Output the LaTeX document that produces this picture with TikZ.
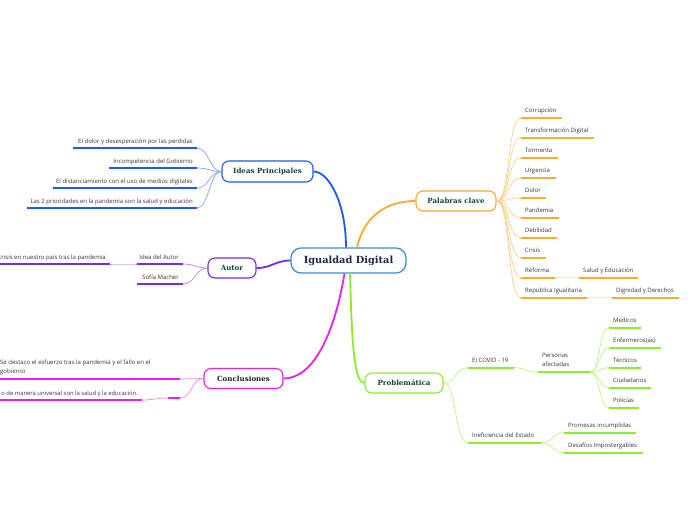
\documentclass[tikz,border=0pt]{standalone}
\usepackage{fontspec}
\setmainfont{Open Sans}
\newfontfamily\slabfont{DejaVu Serif}
\definecolor{bblue}{RGB}{30,90,245}
\definecolor{rootblue}{RGB}{60,140,210}
\definecolor{orng}{RGB}{250,170,45}
\definecolor{purp}{RGB}{120,40,240}
\definecolor{magn}{RGB}{240,30,235}
\definecolor{lgrn}{RGB}{140,235,45}
\definecolor{ngreen}{RGB}{15,70,55}
\definecolor{navy}{RGB}{25,40,75}
\definecolor{leafgray}{RGB}{55,55,55}
\definecolor{darktx}{RGB}{30,30,30}
\newcommand\rleaf[6]{%
  \coordinate (#1-l) at (#2,#4); \coordinate (#1-r) at (#3,#4);
  \draw[uline,#6] (#1-l) -- (#1-r);
  \node[leaf,anchor=base west] (#1) at ([shift={(4,-5)}]#1-l) {#5};}
\newcommand\lleaf[6]{%
  \coordinate (#1-l) at (#2,#4); \coordinate (#1-r) at (#3,#4);
  \draw[uline,#6] (#1-l) -- (#1-r);
  \node[leaf,anchor=base east] (#1) at ([shift={(-4,-5)}]#1-r) {#5};}
\newcommand\rcon[4]{\draw[thinc,#4] (#1) .. controls +(#3,0) and +(-#3,0) .. (#2);}
\newcommand\lcon[4]{\draw[thinc,#4] (#1) .. controls +(-#3,0) and +(#3,0) .. (#2);}
\begin{document}
\begin{tikzpicture}[x=1pt,y=-1pt,
  mainbox/.style={draw, fill=white, rounded corners=7pt, line width=1.1pt, inner sep=0pt,
    font=\slabfont\bfseries\fontsize{7.1}{9}\selectfont, text=ngreen},
  leaf/.style={inner sep=0pt, font=\fontsize{6}{9}\selectfont, text=leafgray},
  uline/.style={line width=1.8pt},
  thinc/.style={line width=0.7pt},
  trunk/.style={line width=1.8pt}]
\useasboundingbox[fill=white] (0,0) rectangle (696,520);

% main nodes
\node[mainbox, draw=rootblue, line width=1.2pt, rounded corners=10pt, minimum width=115pt, minimum height=25pt,
  text=navy, font=\slabfont\bfseries\fontsize{9.8}{11}\selectfont] (root) at (348.5,260.5) {Igualdad Digital};
\node[mainbox, draw=bblue, minimum width=91pt, minimum height=21pt] (ideas) at (267.5,171.5) {Ideas Principales};
\node[mainbox, draw=orng, minimum width=80pt, minimum height=20pt] (kw) at (456,201) {Palabras clave};
\node[mainbox, draw=purp, minimum width=48pt, minimum height=20pt] (autor) at (232,268) {Autor};
\node[mainbox, draw=magn, minimum width=79pt, minimum height=20pt, text=darktx] (concl) at (243.5,378.5) {Conclusiones};
\node[mainbox, draw=lgrn, minimum width=78pt, minimum height=20pt] (prob) at (404,383) {Problemática};

% trunks
\draw[trunk,bblue] ([xshift=-2.5pt]root.north) .. controls +(0,-45) and +(15,0) .. (ideas.east);
\draw[trunk,orng] ([xshift=8.5pt]root.north) .. controls +(8,-35) and +(-25,0) .. (kw.west);
\draw[trunk,purp] (root.west) .. controls +(-15,0) and +(15,0) .. (autor.east);
\draw[trunk,magn] ([xshift=-4pt]root.south) .. controls +(-10,60) and +(30,0) .. (concl.east);
\draw[trunk,lgrn] ([xshift=1.5pt]root.south) .. controls +(2,75) and +(-10,0) .. (prob.west);

% Ideas Principales
\lleaf{i1}{73}{197}{148}{El dolor y desesperación por las perdidas}{bblue}
\lleaf{i2}{109}{197}{168}{Incompetencia del Gobierno}{bblue}
\lleaf{i3}{53}{197}{188}{El distanciamiento con el uso de medios digitales}{bblue}
\lleaf{i4}{27}{197}{208}{Las 2 prioridades en la pandemia son la salud y educación}{bblue}
\foreach \n in {i1,i2,i3,i4} {\lcon{ideas.west}{\n-r}{12}{bblue!55!white}}

% Autor
\lleaf{a1}{137}{183}{264}{Idea del Autor}{purp}
\lleaf{a11}{-5}{110}{264}{crisis en nuestro país tras la pandemia}{purp}
\lleaf{a2}{137}{183}{284}{Sofía Macher}{purp}
\lcon{autor.west}{a1-r}{12}{purp!55!white}
\lcon{autor.west}{a2-r}{12}{purp!55!white}
\lcon{a1-l}{a11-r}{10}{purp!40!white}

% Conclusiones
\coordinate (c1-l) at (-5,379); \coordinate (c1-r) at (180,379);
\draw[uline,magn] (c1-l) -- (c1-r);
\node[leaf,anchor=south west,align=left] (c1) at (0,375.4) {Se destaco el esfuerzo tras la pandemia y el fallo en el\\gobierno};
\coordinate (c2-l) at (168,398); \coordinate (c2-r) at (180,398);
\draw[uline,magn] (c2-l) -- (c2-r);
\coordinate (c21-l) at (-5,400); \coordinate (c21-r) at (142,400);
\draw[uline,magn] (c21-l) -- (c21-r);
\node[leaf,anchor=base east,font=\fontsize{5.85}{9}\selectfont] (c21) at ([shift={(-4,-5)}]c21-r) {o de manera universal son la salud y la educación.};
\lcon{concl.west}{c1-r}{12}{magn!55!white}
\lcon{concl.west}{c2-r}{12}{magn!55!white}
\lcon{c2-l}{c21-r}{12}{magn!55!white}

% Palabras clave
\rleaf{k1}{521}{562}{117.7}{Corrupción}{orng}
\rleaf{k2}{521}{594}{137.7}{Transformación Digital}{orng}
\rleaf{k3}{521}{558}{157.7}{Tormenta}{orng}
\rleaf{k4}{521}{556}{177.7}{Urgencia}{orng}
\rleaf{k5}{521}{546}{197.7}{Dolor}{orng}
\rleaf{k6}{521}{559}{217.7}{Pandemia}{orng}
\rleaf{k7}{521}{557}{237.7}{Debilidad}{orng}
\rleaf{k8}{521}{546}{257.7}{Crisis}{orng}
\rleaf{k9}{521}{555}{277.7}{Reforma}{orng}
\rleaf{k91}{579}{638}{277.7}{Salud y Educación}{orng}
\rleaf{k10}{521}{587}{297.7}{Republica Igualitaria}{orng}
\rleaf{k101}{612}{679}{297.7}{Dignidad y Derechos}{orng}
\foreach \n in {k1,k2,k3,k4,k5,k6,k7,k8,k9,k10} {\rcon{kw.east}{\n-l}{14}{orng!55!white}}
\draw[thinc,orng!30!white] (k9-r) -- (k91-l);
\draw[thinc,orng!30!white] (k10-r) -- (k101-l);

% Problematica
\rleaf{p1}{468}{514}{367.7}{El COVID - 19}{lgrn}
\coordinate (p11-l) at (538,372.3); \coordinate (p11-r) at (590,372.3);
\draw[uline,lgrn] (p11-l) -- (p11-r);
\node[leaf,anchor=south west,align=left] (p11) at ([shift={(4,-5.2)}]p11-l) {Personas\\afectadas};
\rleaf{m1}{609}{641}{327.7}{Medicos}{lgrn}
\rleaf{m2}{609}{661}{347.7}{Enfermeros(as)}{lgrn}
\rleaf{m3}{609}{641}{367.7}{Técnicos}{lgrn}
\rleaf{m4}{609}{651}{387.7}{Ciudadanos}{lgrn}
\rleaf{m5}{609}{639}{407.7}{Policías}{lgrn}
\rleaf{p2}{468}{541}{442.7}{Ineficiencia del Estado}{lgrn}
\rleaf{p21}{564}{636}{432.7}{Promesas incumplidas}{lgrn}
\rleaf{p22}{564}{643}{452.7}{Desafíos Impostergables}{lgrn}
\rcon{prob.east}{p1-l}{14}{lgrn!55!white}
\rcon{prob.east}{p2-l}{14}{lgrn!55!white}
\rcon{p1-r}{p11-l}{12}{lgrn!55!white}
\foreach \n in {m1,m2,m3,m4,m5} {\rcon{p11-r}{\n-l}{10}{lgrn!55!white}}
\rcon{p2-r}{p21-l}{12}{lgrn!55!white}
\rcon{p2-r}{p22-l}{12}{lgrn!55!white}
\end{tikzpicture}
\end{document}
